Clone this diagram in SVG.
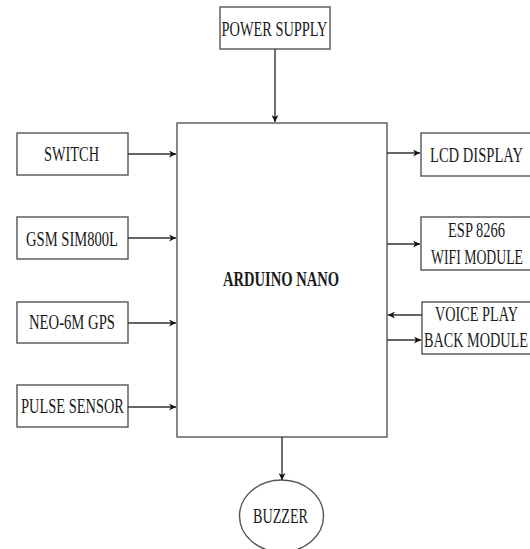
<svg xmlns="http://www.w3.org/2000/svg" width="530" height="549" viewBox="0 0 530 549">
<defs>
<marker id="ah" viewBox="0 0 10 10" refX="10" refY="5" markerWidth="7" markerHeight="7" markerUnits="userSpaceOnUse" orient="auto">
<path d="M0,0 L10,5 L0,10 L3,5 Z" fill="#111"/>
</marker>
</defs>
<style>
.box{fill:#fff;stroke:#555;stroke-width:1.4}
.t{font-family:"Liberation Serif","Times New Roman",serif;font-size:21.5px;fill:#1a1a1a}
.b{font-weight:bold;font-size:20px}
.c{stroke:#333;stroke-width:1.4;fill:none;marker-end:url(#ah)}
</style>
<rect width="530" height="549" fill="#fff"/>
<g id="power"><rect class="box" x="220" y="7" width="110" height="42"/><text class="t" x="221.5" y="36" textLength="106" lengthAdjust="spacingAndGlyphs">POWER SUPPLY</text></g>
<g id="arduino"><rect class="box" x="177" y="123" width="210" height="314"/><text class="t b" x="223" y="286" textLength="116" lengthAdjust="spacingAndGlyphs">ARDUINO NANO</text></g>
<g id="switch"><rect class="box" x="17" y="133" width="111" height="42"/><text class="t" x="44" y="161" textLength="55" lengthAdjust="spacingAndGlyphs">SWITCH</text></g>
<g id="gsm"><rect class="box" x="17" y="217" width="111" height="42"/><text class="t" x="26" y="246" textLength="92" lengthAdjust="spacingAndGlyphs">GSM SIM800L</text></g>
<g id="gps"><rect class="box" x="17" y="302" width="111" height="41"/><text class="t" x="29" y="329" textLength="86" lengthAdjust="spacingAndGlyphs">NEO-6M GPS</text></g>
<g id="pulse"><rect class="box" x="17" y="385" width="111" height="42"/><text class="t" x="21" y="413" textLength="103" lengthAdjust="spacingAndGlyphs">PULSE SENSOR</text></g>
<g id="lcd"><rect class="box" x="421" y="133" width="115" height="43"/><text class="t" x="430" y="162" textLength="93" lengthAdjust="spacingAndGlyphs">LCD DISPLAY</text></g>
<g id="esp"><rect class="box" x="421" y="217" width="115" height="53"/><text class="t" x="448" y="237" textLength="57" lengthAdjust="spacingAndGlyphs">ESP 8266</text><text class="t" x="431" y="264" textLength="92" lengthAdjust="spacingAndGlyphs">WIFI MODULE</text></g>
<g id="voice"><rect class="box" x="422" y="302" width="115" height="52"/><text class="t" x="435" y="321" textLength="83" lengthAdjust="spacingAndGlyphs">VOICE PLAY</text><text class="t" x="424" y="347" textLength="104" lengthAdjust="spacingAndGlyphs">BACK MODULE</text></g>
<g id="buzzer"><ellipse class="box" cx="281.5" cy="516" rx="42" ry="36"/><text class="t" x="253" y="523" textLength="55" lengthAdjust="spacingAndGlyphs">BUZZER</text></g>
<g id="connectors">
<line class="c" x1="275" y1="49" x2="275" y2="122"/>
<line class="c" x1="128" y1="154" x2="176" y2="154"/>
<line class="c" x1="128" y1="238" x2="176" y2="238"/>
<line class="c" x1="128" y1="323" x2="176" y2="323"/>
<line class="c" x1="128" y1="407" x2="176" y2="407"/>
<line class="c" x1="387" y1="153" x2="420" y2="153"/>
<line class="c" x1="387" y1="244" x2="420" y2="244"/>
<line class="c" x1="422" y1="315" x2="388" y2="315"/>
<line class="c" x1="387" y1="340" x2="421" y2="340"/>
<line class="c" x1="282" y1="437" x2="282" y2="480"/>
</g>
</svg>
